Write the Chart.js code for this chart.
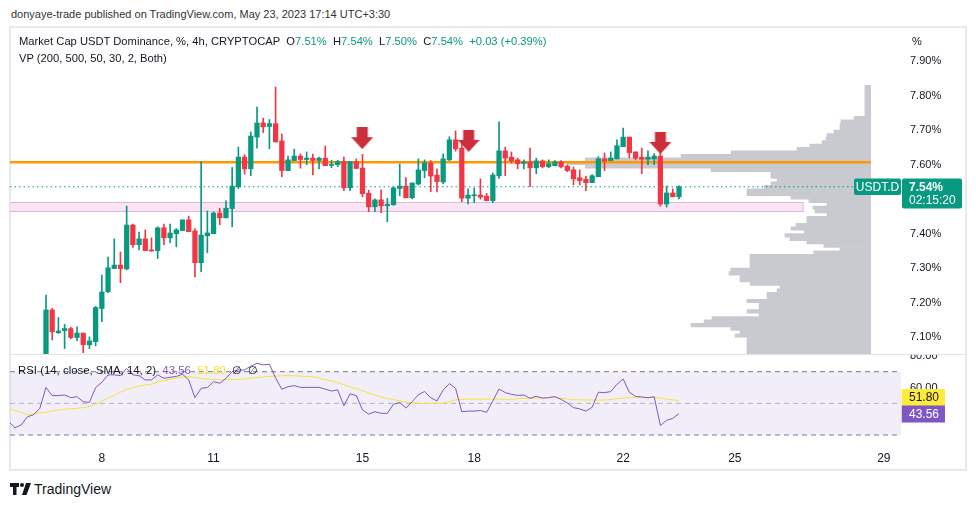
<!DOCTYPE html>
<html><head><meta charset="utf-8">
<script src="https://cdn.jsdelivr.net/npm/chart.js@4.4.0/dist/chart.umd.min.js"></script>
<style>
html,body{margin:0;padding:0;background:#fff;width:976px;height:506px;overflow:hidden;font-family:"Liberation Sans",Arial,sans-serif;color:#131722}
.abs{position:absolute;white-space:nowrap}
#frame{position:absolute;left:9px;top:26px;width:958px;height:445px;border:2px solid #e8e9ee;box-sizing:border-box}
#sep{position:absolute;left:10px;top:354px;width:956px;height:1px;background:#e0e3eb}
.g{color:#089981}
</style></head>
<body>
<div class="abs" style="left:11px;top:8px;font-size:11px;color:#333">donyaye-trade published on TradingView.com, May 23, 2023 17:14 UTC+3:30</div>
<div id="frame"></div>
<canvas id="vp" class="abs" style="left:10px;top:28px" width="861" height="327"></canvas>
<canvas id="main" class="abs" style="left:10px;top:28px" width="956" height="327"></canvas>
<div id="sep"></div>
<canvas id="rsi" class="abs" style="left:10px;top:355px" width="956" height="115"></canvas>
<div class="abs" style="left:19px;top:35px;font-size:11.2px">Market Cap USDT Dominance, %, 4h, CRYPTOCAP&nbsp;&nbsp;O<span class="g">7.51%</span>&nbsp;&nbsp;H<span class="g">7.54%</span>&nbsp;&nbsp;L<span class="g">7.50%</span>&nbsp;&nbsp;C<span class="g">7.54%</span>&nbsp;&nbsp;<span class="g">+0.03 (+0.39%)</span></div>
<div class="abs" style="left:19px;top:52px;font-size:11.2px">VP (200, 500, 50, 30, 2, Both)</div>
<div class="abs" style="left:912px;top:35px;font-size:11px">%</div>
<div class="abs" style="left:18px;top:363px;font-size:11.4px">RSI (14, close, SMA, 14, 2)&nbsp;&nbsp;<span style="color:#7e57c2">43.56</span>&nbsp;&nbsp;<span style="color:#f5df2a">51.80</span>&nbsp;&nbsp;∅&nbsp;&nbsp;∅</div>
<div class="abs" style="left:10px;top:482px">
<svg width="22" height="14" viewBox="0 0 22 14"><path d="M0 1h9v4H6.5v8H3V5H0z" fill="#131722"/><circle cx="12" cy="3" r="2" fill="#131722"/><path d="M16 1h5l-4.5 12h-4.5z" fill="#131722"/></svg>
</div>
<div class="abs" style="left:34px;top:481px;font-size:14px;color:#131722">TradingView</div>
<script>
// ---------- DATA ----------
const candleOpen  = [7.03,7.179,7.113,7.119,7.125,7.099,7.112,7.078,7.087,7.183,7.232,7.299,7.309,7.298,7.425,7.368,7.385,7.353,7.351,7.417,7.388,7.400,7.409,7.440,7.408,7.316,7.394,7.400,7.460,7.446,7.473,7.536,7.622,7.588,7.680,7.721,7.711,7.719,7.669,7.583,7.612,7.625,7.615,7.619,7.612,7.619,7.598,7.600,7.609,7.533,7.609,7.590,7.517,7.478,7.498,7.481,7.484,7.531,7.538,7.504,7.544,7.583,7.605,7.570,7.550,7.614,7.672,7.648,7.503,7.510,7.512,7.509,7.496,7.568,7.640,7.622,7.614,7.604,7.608,7.591,7.611,7.594,7.597,7.608,7.596,7.585,7.562,7.558,7.548,7.565,7.617,7.612,7.617,7.652,7.680,7.637,7.622,7.616,7.617,7.625,7.486,7.518,7.507];
const candleHigh  = [7.222,7.184,7.157,7.137,7.129,7.130,7.112,7.101,7.189,7.280,7.332,7.385,7.347,7.480,7.428,7.405,7.411,7.388,7.420,7.428,7.428,7.415,7.440,7.451,7.415,7.609,7.466,7.463,7.474,7.495,7.592,7.651,7.629,7.695,7.767,7.735,7.731,7.825,7.689,7.625,7.645,7.631,7.637,7.631,7.622,7.654,7.613,7.613,7.622,7.609,7.617,7.630,7.526,7.501,7.527,7.503,7.536,7.602,7.563,7.547,7.617,7.614,7.612,7.588,7.631,7.681,7.698,7.665,7.530,7.532,7.559,7.517,7.576,7.724,7.651,7.637,7.619,7.614,7.648,7.619,7.614,7.614,7.612,7.612,7.599,7.593,7.585,7.566,7.571,7.623,7.634,7.637,7.672,7.706,7.680,7.637,7.648,7.640,7.632,7.640,7.538,7.530,7.539];
const candleLow   = [7.02,7.092,7.111,7.067,7.095,7.090,7.055,7.067,7.075,7.145,7.229,7.299,7.258,7.295,7.360,7.353,7.351,7.349,7.328,7.368,7.374,7.362,7.409,7.406,7.275,7.290,7.345,7.400,7.426,7.446,7.420,7.531,7.573,7.568,7.648,7.693,7.646,7.666,7.565,7.583,7.612,7.590,7.600,7.570,7.588,7.597,7.591,7.594,7.525,7.525,7.589,7.507,7.464,7.464,7.461,7.435,7.482,7.510,7.504,7.501,7.541,7.562,7.522,7.521,7.545,7.612,7.639,7.493,7.486,7.490,7.500,7.496,7.490,7.560,7.568,7.604,7.588,7.588,7.536,7.574,7.591,7.591,7.597,7.591,7.580,7.542,7.541,7.525,7.548,7.565,7.583,7.612,7.617,7.652,7.620,7.614,7.574,7.600,7.600,7.480,7.477,7.507,7.501];
const candleClose = [7.179,7.116,7.118,7.125,7.099,7.112,7.078,7.089,7.186,7.231,7.301,7.309,7.299,7.425,7.368,7.385,7.351,7.350,7.417,7.388,7.402,7.411,7.440,7.406,7.316,7.396,7.402,7.460,7.446,7.474,7.538,7.622,7.588,7.683,7.721,7.710,7.719,7.666,7.583,7.614,7.625,7.615,7.619,7.612,7.619,7.597,7.600,7.609,7.533,7.609,7.589,7.516,7.478,7.498,7.481,7.485,7.533,7.538,7.504,7.547,7.585,7.605,7.567,7.551,7.617,7.672,7.646,7.503,7.512,7.512,7.506,7.496,7.570,7.640,7.619,7.611,7.603,7.608,7.591,7.611,7.594,7.603,7.608,7.594,7.583,7.559,7.554,7.548,7.568,7.617,7.611,7.619,7.655,7.680,7.635,7.619,7.616,7.622,7.625,7.486,7.518,7.507,7.536];

const rsiStartIndex = -6;
const rsiValues = [38.4,34.6,36.3,41.5,42.8,46.8,
 60.1,54.9,54.9,55.3,53.6,54.2,51,50.6,60,63.3,
 68,68,67.5,72,68,67.5,64.8,64.8,68,65.8,
 66.5,67,68.4,64.8,53.6,59.5,60,63.7,62.7,65.8,
 70,71.1,71.1,73.5,75.3,74.3,74.7,66,58.9,60.5,
 61.2,60.1,60.1,60.1,60.1,59,57.8,58.5,48.5,56,
 54.9,45.8,43.2,44.7,43.7,43.7,49.5,50.6,47,51,
 55.5,57.5,53.5,51.5,58.4,62.5,59.5,44.7,45.1,45.1,
 45.5,44.3,51.5,59.1,56.8,55.7,55,55.3,53.2,54.5,
 53.3,53.6,54.3,52.5,50.2,47.3,46.5,45.1,47.5,57,
 56.8,57.4,62,65.4,57,54.4,54,53.5,54.2,36,
 39.3,40.5,43.56];
const rsiSmaValues = [46.8,45.5,44.3,42.8,43.3,43.9,
 44.5,45.2,45.8,46.3,46.6,46.9,47.3,47.9,49.5,51.5,
 53.3,55.1,57,58.8,59.9,60.8,61.6,62.2,63.5,64.5,
 65.3,66,66.6,66.8,66.3,65.8,65.4,65.1,64.9,64.8,
 65,65.2,65.4,65.9,66.3,66.7,67,67.2,67.4,67.5,
 67.4,67.2,67,66.9,66,65,64.1,63,61.8,60.5,
 59.2,58,56.6,55.3,54,53,52.3,51.6,50.9,50.4,
 50,50,50,50,50,51,52.3,52.6,52.7,52.7,
 52.7,52.7,52.7,52.7,52.5,52.6,52.9,53.1,53.2,53.3,
 53.4,53.5,53.6,53.2,52.8,52.4,52.2,52.1,52.1,52.1,
 52.1,52.4,52.9,53.4,53.6,53.7,53.8,53.8,53.7,53.3,
 52.7,52.2,51.8];

const vpPrices = [7.825,7.815,7.805,7.795,7.785,7.775,7.765,7.755,7.745,7.735,7.725,7.715,7.705,7.695,7.685,7.675,7.665,7.655,7.645,7.635,7.625,7.615,7.605,7.595,7.585,7.575,7.565,7.555,7.545,7.535,7.525,7.515,7.505,7.495,7.485,7.475,7.465,7.455,7.445,7.435,7.425,7.415,7.405,7.395,7.385,7.375,7.365,7.355,7.345,7.335,7.325,7.315,7.305,7.295,7.285,7.275,7.265,7.255,7.245,7.235,7.225,7.215,7.205,7.195,7.185,7.175,7.165,7.155,7.145,7.135,7.125,7.115,7.105,7.095,7.085,7.075,7.065,7.055,7.045];
const vpVolumes = [2,2,2,2,2,2,2,2,2,5.6,9.9,10.2,10.2,12.2,14.5,14.8,16.1,20.1,24.3,46,62.5,94,100,94,52.6,32.9,32.9,30.9,32.9,35.2,40.8,40.8,26.3,20.4,14.5,19.1,18.4,14.5,21.1,21.1,24.7,26.3,22,28.3,26.6,21.1,15.5,10.2,18.8,39.8,39.8,39.8,39.8,46.1,46.7,43.1,43.1,39.8,29.9,30.9,34.2,34.2,40.8,36.8,36.8,40.8,36.8,52.3,54.9,59.2,46.1,43.1,44.7,40.8,40.8,40.8,40.8,40.8,40.8];

const priceTicks = [7.10,7.20,7.30,7.40,7.50,7.60,7.70,7.80,7.90];
const rsiTicks = [40,60,80];
const dayLabels = ['8','11','15','18','22','25','29'];
const dayIndex  = [9,27,51,69,93,111,135];
const pocLevel = 7.607;
const zoneTop = 7.491, zoneBottom = 7.465, zoneEndIndex = 122;
const vpEndIndex = 132.9;
const arrowIndex = [50.95,68.1,99.0];
const arrowPrice = [7.677,7.669,7.663];

// ---------- SETUP ----------
const FONT = '"Liberation Sans", Arial, sans-serif';
const GREEN = '#089981', RED = '#f23645';
const X_MIN = -5.8, X_MAX = 137.77;
const Y_MIN = 7.0484, Y_MAX = 7.9962;
const N = candleOpen.length;
const idx = candleOpen.map((_, i) => i);
const colors = idx.map(i => candleClose[i] >= candleOpen[i] ? GREEN : RED);
const lastClose = candleClose[N - 1];
const noPad = s => { s.paddingTop = 0; s.paddingBottom = 0; s.paddingLeft = 0; s.paddingRight = 0; };

function makeArrow() {
  const c = document.createElement('canvas'); c.width = 22; c.height = 22;
  const g = c.getContext('2d'); g.fillStyle = '#cc2f3c';
  g.fillRect(5.5, 0, 11, 11);
  g.beginPath(); g.moveTo(0, 10); g.lineTo(22, 10); g.lineTo(11, 22); g.closePath(); g.fill();
  return c;
}

function rr(ctx, x, y, w, h, r) {
  ctx.beginPath(); ctx.moveTo(x + r, y); ctx.lineTo(x + w - r, y); ctx.quadraticCurveTo(x + w, y, x + w, y + r);
  ctx.lineTo(x + w, y + h - r); ctx.quadraticCurveTo(x + w, y + h, x + w - r, y + h); ctx.lineTo(x + r, y + h);
  ctx.quadraticCurveTo(x, y + h, x, y + h - r); ctx.lineTo(x, y + r); ctx.quadraticCurveTo(x, y, x + r, y); ctx.closePath();
}

// ---------- VOLUME PROFILE ----------
new Chart(document.getElementById('vp'), {
  type: 'bar',
  data: { datasets: [{ data: vpPrices.map((p, i) => ({ x: vpVolumes[i], y: p })), backgroundColor: '#c9cacf', borderWidth: 0, barPercentage: 1, categoryPercentage: 1 }] },
  options: {
    indexAxis: 'y', animation: false, responsive: false, layout: { padding: 0, autoPadding: false },
    plugins: { legend: { display: false }, tooltip: { enabled: false } },
    scales: {
      x: { type: 'linear', min: 0, max: 861 / 3.04, reverse: true, display: false, offset: false },
      y: { type: 'linear', min: Y_MIN, max: Y_MAX, display: false, offset: false }
    }
  }
});

// ---------- MAIN ----------
const zonePlugin = {
  id: 'zone',
  beforeDatasetsDraw(chart) {
    const { ctx, scales: { x, y } } = chart;
    const x0 = x.getPixelForValue(X_MIN), x1 = x.getPixelForValue(zoneEndIndex);
    const y0 = y.getPixelForValue(zoneTop), y1 = y.getPixelForValue(zoneBottom);
    ctx.save();
    ctx.fillStyle = 'rgba(248,212,233,0.6)';
    ctx.fillRect(x0, y0, x1 - x0, y1 - y0);
    ctx.strokeStyle = '#dcb5e5'; ctx.lineWidth = 1;
    ctx.strokeRect(x0 - 1, Math.round(y0) + 0.5, x1 - x0 + 1, Math.round(y1 - y0));
    ctx.restore();
  }
};
const priceLabelPlugin = {
  id: 'priceLabel',
  afterDraw(chart) {
    const { ctx, scales: { y } } = chart;
    const py = Math.round(y.getPixelForValue(lastClose));
    ctx.save();
    ctx.fillStyle = GREEN;
    rr(ctx, 844, py - 8.5, 47, 16.5, 2); ctx.fill();
    rr(ctx, 892, py - 8.5, 60, 30, 2); ctx.fill();
    ctx.fillStyle = '#fff'; ctx.textBaseline = 'middle';
    ctx.font = '12px ' + FONT; ctx.textAlign = 'center';
    ctx.fillText('USDT.D', 867.5, py + 0.5);
    ctx.textAlign = 'left';
    ctx.font = 'bold 12px ' + FONT;
    ctx.fillText(lastClose.toFixed(2) + '%', 899, py + 0.5);
    ctx.font = '12px ' + FONT;
    ctx.fillText('02:15:20', 899, py + 13.5);
    ctx.restore();
  }
};

new Chart(document.getElementById('main'), {
  type: 'bar',
  data: { datasets: [
    { type: 'line', data: arrowIndex.map((v, i) => ({ x: v, y: arrowPrice[i] })), showLine: false, pointStyle: makeArrow(), pointRadius: 5, order: -1 },
    { data: idx.map(i => ({ x: i, y: [candleOpen[i], candleClose[i]] })), backgroundColor: colors, barThickness: 4.6, minBarLength: 1, grouped: false, order: 0 },
    { data: idx.map(i => ({ x: i, y: [candleLow[i], candleHigh[i]] })), backgroundColor: colors, barThickness: 1, grouped: false, order: 1 },
    { type: 'line', data: [{ x: X_MIN, y: pocLevel }, { x: vpEndIndex, y: pocLevel }], borderColor: '#ff9800', borderWidth: 2.5, pointRadius: 0, order: 3 },
    { type: 'line', data: [{ x: X_MIN, y: lastClose }, { x: X_MAX, y: lastClose }], borderColor: GREEN, borderWidth: 1, borderDash: [1.5, 3], pointRadius: 0, order: 4 }
  ] },
  options: {
    animation: false, responsive: false, layout: { padding: 0, autoPadding: false },
    plugins: { legend: { display: false }, tooltip: { enabled: false } },
    scales: {
      x: { type: 'linear', min: X_MIN, max: X_MAX, display: false, offset: false },
      y: { type: 'linear', position: 'right', min: Y_MIN, max: Y_MAX, offset: false,
        grid: { display: false, drawTicks: false }, border: { display: false },
        ticks: { padding: 9, color: '#131722', font: { family: FONT, size: 11 }, callback: v => v.toFixed(2) + '%' },
        afterBuildTicks: s => { s.ticks = priceTicks.map(v => ({ value: v })); },
        afterFit: s => { s.width = 65; noPad(s); } }
    }
  },
  plugins: [zonePlugin, priceLabelPlugin]
});

// ---------- RSI ----------
const rsiPts = rsiValues.map((v, i) => ({ x: rsiStartIndex + i, y: v }));
const smaPts = rsiSmaValues.map((v, i) => ({ x: rsiStartIndex + i, y: v }));
const lvl = v => [{ x: X_MIN, y: v }, { x: X_MAX, y: v }];
const rsiLabelPlugin = {
  id: 'rsiLabel',
  afterDraw(chart) {
    const { ctx, scales: { y } } = chart;
    const rv = rsiValues[rsiValues.length - 1], sv = rsiSmaValues[rsiSmaValues.length - 1];
    const pr = Math.round(y.getPixelForValue(rv));
    let ps = Math.round(y.getPixelForValue(sv));
    if (ps > pr - 17) ps = pr - 17;
    ctx.save();
    ctx.fillStyle = '#ffeb3b'; ctx.fillRect(891.7, ps - 8, 43.3, 17);
    ctx.fillStyle = '#7e57c2'; ctx.fillRect(891.7, pr - 8.5, 43.3, 17);
    ctx.font = '12px ' + FONT; ctx.textAlign = 'center'; ctx.textBaseline = 'middle';
    ctx.fillStyle = '#131722'; ctx.fillText(sv.toFixed(2), 914, ps + 0.5);
    ctx.fillStyle = '#fff'; ctx.fillText(rv.toFixed(2), 914, pr + 0.5);
    ctx.restore();
  }
};
new Chart(document.getElementById('rsi'), {
  type: 'line',
  data: { datasets: [
    { data: lvl(70), borderColor: '#787b86', borderWidth: 1, borderDash: [5, 4], pointRadius: 0, fill: '+1', backgroundColor: 'rgba(126,87,194,0.1)', order: 5 },
    { data: lvl(30), borderColor: '#787b86', borderWidth: 1, borderDash: [5, 4], pointRadius: 0, fill: false, order: 4 },
    { data: lvl(50), borderColor: 'rgba(120,123,134,0.5)', borderWidth: 1, borderDash: [5, 4], pointRadius: 0, fill: false, order: 3 },
    { data: smaPts, borderColor: '#f5e33b', borderWidth: 1, pointRadius: 0, fill: false, order: 1 },
    { data: rsiPts, borderColor: '#7e57c2', borderWidth: 1, pointRadius: 0, fill: false, order: 0 }
  ] },
  options: {
    animation: false, responsive: false, layout: { padding: 0, autoPadding: false },
    plugins: { legend: { display: false }, tooltip: { enabled: false } },
    scales: {
      x: { type: 'linear', min: X_MIN, max: X_MAX, offset: false,
        grid: { display: false, drawTicks: false }, border: { display: false },
        ticks: { padding: 5, color: '#131722', font: { family: FONT, size: 12 }, maxRotation: 0, autoSkip: false,
          callback: v => { const k = dayIndex.indexOf(v); return k >= 0 ? dayLabels[k] : ''; } },
        afterBuildTicks: s => { s.ticks = dayIndex.map(v => ({ value: v })); },
        afterFit: s => { s.height = 24; noPad(s); } },
      y: { type: 'linear', position: 'right', min: 23.05, max: 80.55, offset: false,
        grid: { display: false, drawTicks: false }, border: { display: false },
        ticks: { padding: 9, color: '#131722', font: { family: FONT, size: 11 }, callback: v => v.toFixed(2) },
        afterBuildTicks: s => { s.ticks = rsiTicks.map(v => ({ value: v })); },
        afterFit: s => { s.width = 65; noPad(s); } }
    }
  },
  plugins: [rsiLabelPlugin]
});
</script>
</body></html>
